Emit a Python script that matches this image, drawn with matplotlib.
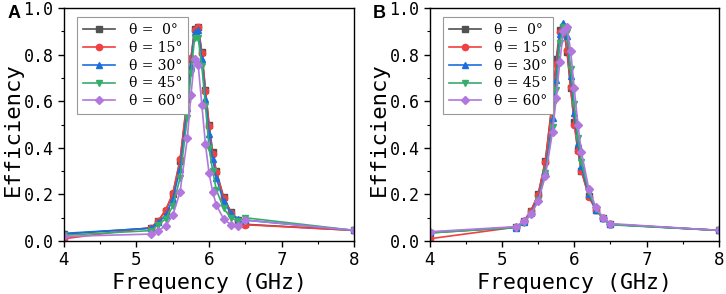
import matplotlib
matplotlib.use("Agg")
import matplotlib.pyplot as plt
from matplotlib.ticker import MultipleLocator

# frequencies (GHz) sampled in both panels
freq = [4, 5.2, 5.3, 5.4, 5.5, 5.6, 5.7, 5.75, 5.8, 5.85, 5.9, 5.95,
        6.0, 6.05, 6.1, 6.2, 6.3, 6.4, 6.5, 8]

labels = ["θ =  0°", "θ = 15°", "θ = 30°", "θ = 45°", "θ = 60°"]
colors = ["#515151", "#F14040", "#1A6FDF", "#37AD6B", "#B177DE"]
markers = ["s", "o", "^", "v", "D"]

# panel A
a_0 = [0.030, 0.056, 0.086, 0.130, 0.200, 0.345, 0.610, 0.780, 0.910, 0.920, 0.810, 0.650,
       0.500, 0.380, 0.300, 0.190, 0.125, 0.090, 0.072, 0.046]
a_15 = [0.010, 0.058, 0.088, 0.132, 0.205, 0.350, 0.615, 0.785, 0.905, 0.918, 0.805, 0.645,
        0.495, 0.375, 0.295, 0.185, 0.122, 0.088, 0.070, 0.046]
a_30 = [0.033, 0.055, 0.080, 0.110, 0.180, 0.310, 0.570, 0.750, 0.895, 0.905, 0.780, 0.610,
        0.460, 0.350, 0.270, 0.170, 0.120, 0.095, 0.090, 0.046]
a_45 = [0.025, 0.045, 0.070, 0.095, 0.150, 0.270, 0.530, 0.720, 0.870, 0.870, 0.750, 0.580,
        0.400, 0.300, 0.220, 0.140, 0.100, 0.085, 0.100, 0.046]
a_60 = [0.020, 0.030, 0.045, 0.065, 0.110, 0.210, 0.440, 0.625, 0.780, 0.755, 0.585, 0.415,
        0.290, 0.210, 0.155, 0.095, 0.070, 0.065, 0.090, 0.046]

# panel B
b_0 = [0.035, 0.060, 0.085, 0.130, 0.200, 0.345, 0.610, 0.780, 0.905, 0.920, 0.810, 0.655,
       0.510, 0.390, 0.300, 0.195, 0.135, 0.100, 0.072, 0.046]
b_15 = [0.010, 0.060, 0.085, 0.128, 0.198, 0.340, 0.600, 0.760, 0.895, 0.915, 0.820, 0.660,
        0.500, 0.385, 0.300, 0.190, 0.132, 0.098, 0.072, 0.046]
b_30 = [0.038, 0.058, 0.080, 0.120, 0.180, 0.300, 0.530, 0.690, 0.890, 0.935, 0.880, 0.710,
        0.550, 0.420, 0.320, 0.200, 0.135, 0.098, 0.072, 0.046]
b_45 = [0.035, 0.058, 0.078, 0.115, 0.175, 0.290, 0.490, 0.650, 0.850, 0.920, 0.895, 0.740,
        0.590, 0.440, 0.340, 0.210, 0.138, 0.095, 0.070, 0.046]
b_60 = [0.040, 0.062, 0.085, 0.115, 0.170, 0.280, 0.470, 0.615, 0.770, 0.900, 0.920, 0.815,
        0.655, 0.500, 0.380, 0.225, 0.145, 0.100, 0.075, 0.046]

panels = [("A", [a_0, a_15, a_30, a_45, a_60]),
          ("B", [b_0, b_15, b_30, b_45, b_60])]

fig = plt.figure(figsize=(7.26, 2.94), dpi=100)
boxes = [[0.088, 0.180, 0.400, 0.793], [0.592, 0.180, 0.398, 0.793]]
mono = "DejaVu Sans Mono"

for (tag, series), box in zip(panels, boxes):
    ax = fig.add_axes(box)
    for y, lab, c, m in zip(series, labels, colors, markers):
        ax.plot(freq, y, color=c, marker=m, markersize=4.5 if m != "D" else 4,
                linewidth=1.2, label=lab)
    ax.set_xlim(4, 8)
    ax.set_ylim(0, 1.0)
    ax.xaxis.set_minor_locator(MultipleLocator(0.5))
    ax.yaxis.set_minor_locator(MultipleLocator(0.1))
    ax.tick_params(which="major", direction="out", length=4, width=1)
    ax.tick_params(which="minor", direction="out", length=2.5, width=0.8)
    ax.set_yticks([0, 0.2, 0.4, 0.6, 0.8, 1.0])
    ax.set_yticklabels(["0.0", "0.2", "0.4", "0.6", "0.8", "1.0"], family=mono, fontsize=12)
    ax.set_xticks([4, 5, 6, 7, 8])
    ax.set_xticklabels(["4", "5", "6", "7", "8"], family="DejaVu Sans", fontsize=12)
    for s in ax.spines.values():
        s.set_linewidth(1.0)
    ax.set_xlabel("Frequency (GHz)", family=mono, fontsize=15.5)
    ax.xaxis.set_label_coords(0.5, -0.135, transform=ax.transAxes)
    ax.set_ylabel("Efficiency", family=mono, fontsize=16)
    ax.yaxis.set_label_coords(-0.14, 0.48, transform=ax.transAxes)
    leg = ax.legend(loc="upper left", bbox_to_anchor=(0.022, 0.99),
                    prop={"family": "DejaVu Serif", "size": 10},
                    handlelength=2.3, handletextpad=1.0, labelspacing=0.28,
                    borderpad=0.4, fancybox=False, edgecolor="#999999", framealpha=1)
    leg.get_frame().set_linewidth(0.8)
    fig.text(box[0] - 0.078, 0.955, tag, fontsize=13, fontweight="bold",
             family="Liberation Sans", ha="left", va="center")

fig.savefig("out.png", dpi=100)
